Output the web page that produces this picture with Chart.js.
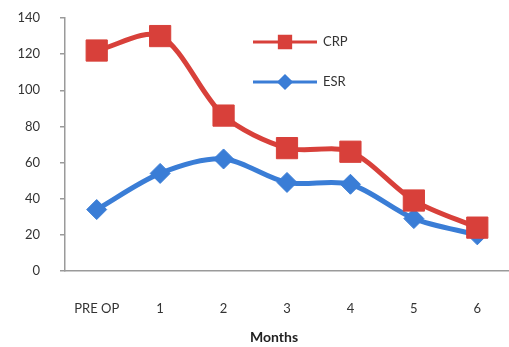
<!DOCTYPE html>
<html>
<head>
<meta charset="utf-8">
<script src="https://cdn.jsdelivr.net/npm/chart.js@4/dist/chart.umd.min.js"></script>
<style>
  html, body { margin: 0; padding: 0; background: #fff; }
  #wrap { width: 509px; height: 347px; }
</style>
</head>
<body>
<div id="wrap"><canvas id="chart"></canvas></div>
<script>
var months = ["PRE OP", "1", "2", "3", "4", "5", "6"];
var crp = [122, 130, 86, 68, 66, 39, 24];
var esr = [34, 54, 62, 49, 48, 29, 20];
var yTicks = [0, 20, 40, 60, 80, 100, 120, 140];

var red = "#d8403a";
var blue = "#3a7dd6";
var font = "Lato, 'Open Sans', sans-serif";

// legend sits inside the plot, and the axis title is a bit left of centre
var extras = {
  id: "extras",
  afterDraw: function(chart) {
    var ctx = chart.ctx;
    var items = [
      {label: "CRP", color: red, style: "rect", r: 8, y: 42},
      {label: "ESR", color: blue, style: "rectRot", r: 6, y: 82}
    ];
    ctx.save();
    items.forEach(function(it) {
      ctx.strokeStyle = it.color;
      ctx.lineWidth = 3;
      ctx.beginPath();
      ctx.moveTo(253, it.y);
      ctx.lineTo(317, it.y);
      ctx.stroke();
      ctx.fillStyle = it.color;
      Chart.helpers.drawPoint(ctx, {pointStyle: it.style, radius: it.r, borderWidth: 1}, 285, it.y);
      ctx.fill();
      ctx.fillStyle = "#333";
      ctx.font = "13px " + font;
      ctx.textBaseline = "middle";
      ctx.textAlign = "left";
      ctx.fillText(it.label, 323, it.y);
    });
    ctx.fillStyle = "#222";
    ctx.font = "bold 14px " + font;
    ctx.textAlign = "center";
    ctx.textBaseline = "middle";
    ctx.fillText("Months", 274, 337);
    ctx.restore();
  }
};

new Chart(document.getElementById("chart"), {
  type: "line",
  data: {
    labels: months,
    datasets: [
      {
        label: "CRP",
        data: crp,
        borderColor: red,
        backgroundColor: red,
        borderWidth: 5,
        tension: 0.3,
        pointStyle: "rect",
        pointRadius: 15,
        pointBorderWidth: 1
      },
      {
        label: "ESR",
        data: esr,
        borderColor: blue,
        backgroundColor: blue,
        borderWidth: 5,
        tension: 0.3,
        pointStyle: "rectRot",
        pointRadius: 10,
        pointBorderWidth: 1
      }
    ]
  },
  options: {
    responsive: true,
    maintainAspectRatio: false,
    animation: false,
    layout: {autoPadding: false, padding: {top: 18, right: -3, left: 0, bottom: 0}},
    plugins: {legend: {display: false}, tooltip: {enabled: false}},
    scales: {
      x: {
        offset: true,
        grid: {display: false, drawTicks: false},
        border: {color: "#9a9a9a", width: 1.5},
        ticks: {color: "#333", font: {family: font, size: 13}, padding: 30, maxRotation: 0},
        afterFit: function(s) { s.height = 76; s.paddingLeft = 0; s.paddingRight = 0; }
      },
      y: {
        min: 0,
        max: 140,
        afterBuildTicks: function(s) { s.ticks = yTicks.map(function(v) { return {value: v}; }); },
        grid: {drawOnChartArea: false, drawTicks: true, tickLength: 5, color: "#9a9a9a", lineWidth: 1.5},
        border: {color: "#9a9a9a", width: 1.5},
        ticks: {color: "#333", font: {family: font, size: 13}, padding: 20},
        afterFit: function(s) { s.width = 65; s.paddingTop = 0; s.paddingBottom = 0; }
      }
    }
  },
  plugins: [extras]
});
</script>
</body>
</html>
